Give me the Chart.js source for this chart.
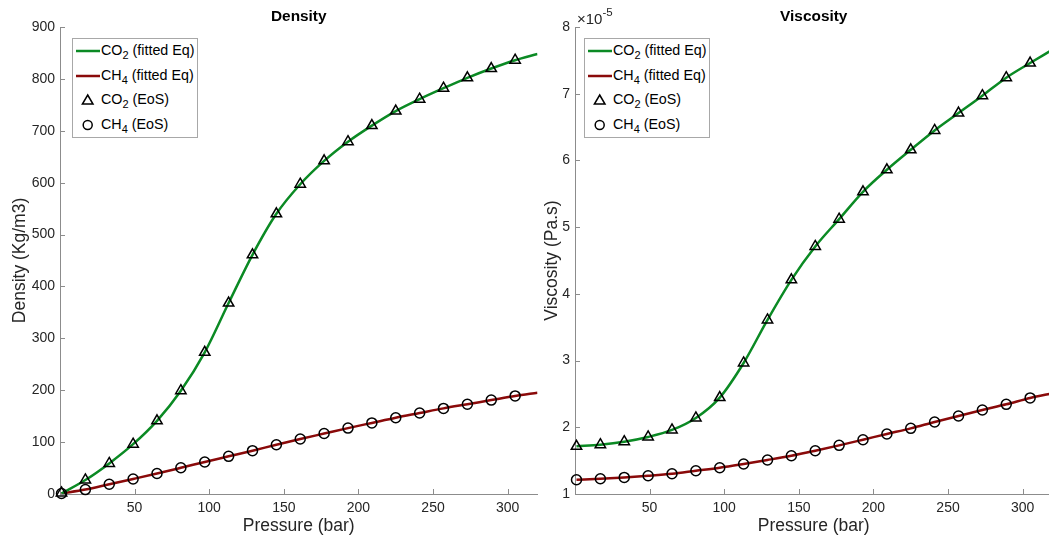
<!DOCTYPE html>
<html>
<head>
<meta charset="utf-8">
<script src="https://cdn.jsdelivr.net/npm/chart.js@4.4.0/dist/chart.umd.min.js"></script>
<style>
html,body{margin:0;padding:0;background:#fff;overflow:hidden;width:1049px;height:539px;}
#wrap{position:relative;width:1049px;height:539px;overflow:hidden;background:#fff;}
canvas{position:absolute;top:0;}
.legend{position:absolute;top:38px;width:126px;height:100px;border:1px solid #a8a8a8;background:#fff;box-sizing:border-box;font-family:"Liberation Sans",Arial,sans-serif;font-size:14.3px;color:#000;}
.legend svg{position:absolute;left:0;top:0;}
.legend .row{position:absolute;left:28px;height:20px;line-height:20px;white-space:nowrap;}
.legend sub{font-size:11px;vertical-align:-4px;line-height:0;}
</style>
</head>
<body>
<div id="wrap">
  <canvas id="cDens" width="545" height="539" style="left:0px;width:545px;height:539px;"></canvas>
  <canvas id="cVisc" width="540" height="539" style="left:520px;width:540px;height:539px;"></canvas>

  <div class="legend" style="left:72px;">
    <svg width="126" height="100">
      <line x1="3" y1="12" x2="27" y2="12" stroke="#0b8a24" stroke-width="2.5"/>
      <line x1="3" y1="37" x2="27" y2="37" stroke="#8a0a0a" stroke-width="2.5"/>
      <polygon points="14.7,56 20,65 9.4,65" fill="none" stroke="#000" stroke-width="1.5"/>
      <circle cx="14.7" cy="86" r="4.5" fill="none" stroke="#000" stroke-width="1.5"/>
    </svg>
    <div class="row" style="top:1px;">CO<sub>2</sub> (fitted Eq)</div>
    <div class="row" style="top:26px;">CH<sub>4</sub> (fitted Eq)</div>
    <div class="row" style="top:50px;">CO<sub>2</sub> (EoS)</div>
    <div class="row" style="top:75px;">CH<sub>4</sub> (EoS)</div>
  </div>

  <div class="legend" style="left:584px;">
    <svg width="126" height="100">
      <line x1="3" y1="12" x2="27" y2="12" stroke="#0b8a24" stroke-width="2.5"/>
      <line x1="3" y1="37" x2="27" y2="37" stroke="#8a0a0a" stroke-width="2.5"/>
      <polygon points="14.7,56 20,65 9.4,65" fill="none" stroke="#000" stroke-width="1.5"/>
      <circle cx="14.7" cy="86" r="4.5" fill="none" stroke="#000" stroke-width="1.5"/>
    </svg>
    <div class="row" style="top:1px;">CO<sub>2</sub> (fitted Eq)</div>
    <div class="row" style="top:26px;">CH<sub>4</sub> (fitted Eq)</div>
    <div class="row" style="top:50px;">CO<sub>2</sub> (EoS)</div>
    <div class="row" style="top:75px;">CH<sub>4</sub> (EoS)</div>
  </div>
</div>

<script>
// ---------- DATA ----------
// Pressure (bar) of the EoS sample points
const pressureEoS = [1, 17, 33, 49, 65, 81, 97, 113, 129, 145, 161, 177, 193, 209, 225, 241, 257, 273, 289, 305];
// Pressure (bar) of the fitted-equation curve samples
const pressureFit = [1, 17, 33, 49, 65, 81, 97, 113, 129, 145, 161, 177, 193, 209, 225, 241, 257, 273, 289, 305, 320];

// Density (Kg/m3)
const densityCO2EoS = [2, 27, 59, 96, 141, 199, 273, 368, 461, 540, 597, 642, 679, 710, 738, 761, 782, 802, 820, 836];
const densityCH4EoS = [1, 8.5, 18.7, 29, 39.5, 50.5, 61.7, 72.6, 83.5, 95, 106, 116.5, 127, 137, 147, 156, 165, 173, 181, 189];
const densityCO2Fit = [1, 27, 59, 96, 141, 199, 273, 368, 461, 540, 597, 642, 679, 710, 738, 761, 782, 802, 820, 836, 848];
const densityCH4Fit = [1, 8.5, 18.7, 29, 39.5, 50.5, 61.7, 72.6, 83.5, 95, 106, 116.5, 127, 137, 147, 156, 165, 173, 181, 189, 195];

// Viscosity (Pa.s), in units of 1e-5
const viscCO2EoS = [1.714, 1.739, 1.784, 1.855, 1.96, 2.14, 2.445, 2.964, 3.61, 4.21, 4.71, 5.12, 5.53, 5.86, 6.16, 6.45, 6.71, 6.97, 7.24, 7.46];
const viscCH4EoS = [1.214, 1.229, 1.249, 1.274, 1.304, 1.349, 1.394, 1.45, 1.51, 1.574, 1.649, 1.729, 1.814, 1.9, 1.984, 2.079, 2.169, 2.259, 2.344, 2.44];
const viscCO2Fit = [1.714, 1.739, 1.784, 1.855, 1.96, 2.14, 2.445, 2.964, 3.61, 4.21, 4.71, 5.12, 5.53, 5.86, 6.16, 6.45, 6.71, 6.97, 7.24, 7.46, 7.66];
const viscCH4Fit = [1.214, 1.229, 1.249, 1.274, 1.304, 1.349, 1.394, 1.45, 1.51, 1.574, 1.649, 1.729, 1.814, 1.9, 1.984, 2.079, 2.169, 2.259, 2.344, 2.44, 2.51];

// Ticks
const xTicks = [50, 100, 150, 200, 250, 300];
const xTickLabels = ['50', '100', '150', '200', '250', '300'];
const densYTicks = [0, 100, 200, 300, 400, 500, 600, 700, 800, 900];
const densYTickLabels = ['0', '100', '200', '300', '400', '500', '600', '700', '800', '900'];
const viscYTicks = [1, 2, 3, 4, 5, 6, 7, 8];
const viscYTickLabels = ['1', '2', '3', '4', '5', '6', '7', '8'];

// ---------- STYLE ----------
const FONT = '"Liberation Sans", Arial, Helvetica, sans-serif';
const GREEN = '#0b8a24';
const DARKRED = '#8a0a0a';
const AXIS = '#8c8c8c';
const TICKTEXT = '#262626';

function pts(xs, ys) { return xs.map((x, i) => ({x: x, y: ys[i]})); }

function decoPlugin(o) {
  return {
    id: 'deco',
    afterDraw(chart) {
      const ctx = chart.ctx, a = chart.chartArea, xs = chart.scales.x, ys = chart.scales.y;
      ctx.save();
      ctx.strokeStyle = AXIS; ctx.lineWidth = 1;
      ctx.beginPath();
      o.xTicks.forEach(v => { const px = Math.round(xs.getPixelForValue(v)) + 0.5; ctx.moveTo(px, a.bottom); ctx.lineTo(px, a.bottom - 5); });
      o.yTicks.forEach(v => { const py = Math.round(ys.getPixelForValue(v)) + 0.5; ctx.moveTo(a.left, py); ctx.lineTo(a.left + 5, py); });
      ctx.stroke();
      const cx = (a.left + a.right) / 2;
      ctx.textAlign = 'center'; ctx.textBaseline = 'middle';
      ctx.fillStyle = '#000';
      ctx.font = 'bold 15.4px ' + FONT;
      ctx.fillText(o.title, cx, 17);
      ctx.fillStyle = TICKTEXT;
      ctx.font = '17.5px ' + FONT;
      ctx.fillText(o.xTitle, cx, 526);
      if (o.exp) {
        ctx.textAlign = 'left';
        ctx.font = '15px ' + FONT;
        ctx.fillText('\u00d710', a.left + 2, 20);
        const w = ctx.measureText('\u00d710').width;
        ctx.font = '11.5px ' + FONT;
        ctx.fillText(o.exp, a.left + 2 + w, 13);
        ctx.textAlign = 'center';
      }
      ctx.font = '17.5px ' + FONT;
      ctx.translate(o.yTitleX, (a.top + a.bottom) / 2);
      ctx.rotate(-Math.PI / 2);
      ctx.fillText(o.yTitle, 0, 0);
      ctx.restore();
    }
  };
}

function makeChart(id, c) {
  return new Chart(document.getElementById(id), {
    type: 'scatter',
    data: {
      datasets: [
        {label: 'CO2 (EoS)', data: pts(pressureEoS, c.co2), pointStyle: 'triangle', pointRadius: 6, borderColor: '#000', backgroundColor: 'rgba(0,0,0,0)', borderWidth: 1.5, showLine: false, clip: false, order: 1},
        {label: 'CH4 (EoS)', data: pts(pressureEoS, c.ch4), pointStyle: 'circle', pointRadius: 5, borderColor: '#000', backgroundColor: 'rgba(0,0,0,0)', borderWidth: 1.5, showLine: false, clip: false, order: 1},
        {label: 'CO2 (fitted Eq)', data: pts(pressureFit, c.co2Fit), showLine: true, borderColor: GREEN, backgroundColor: GREEN, borderWidth: 2.5, pointRadius: 0, cubicInterpolationMode: 'monotone', order: 2},
        {label: 'CH4 (fitted Eq)', data: pts(pressureFit, c.ch4Fit), showLine: true, borderColor: DARKRED, backgroundColor: DARKRED, borderWidth: 2.5, pointRadius: 0, cubicInterpolationMode: 'monotone', order: 3}
      ]
    },
    options: {
      responsive: false, animation: false, events: [],
      plugins: {legend: {display: false}, tooltip: {enabled: false}, title: {display: false}},
      layout: {padding: {left: 0, top: 27, right: 7, bottom: 0}},
      scales: {
        x: {
          type: 'linear', min: 0, max: 320,
          afterFit(s) { s.height = 45; },
          afterBuildTicks(s) { s.ticks = xTicks.map(v => ({value: v})); },
          grid: {display: false, drawTicks: false},
          border: {display: true, color: AXIS, width: 1},
          ticks: {color: TICKTEXT, font: {family: FONT, size: 14}, padding: 6, maxRotation: 0, autoSkip: false,
                  callback: (v) => { const i = xTicks.indexOf(v); return i >= 0 ? xTickLabels[i] : ''; }}
        },
        y: {
          type: 'linear', min: c.yMin, max: c.yMax,
          afterFit(s) { s.width = c.yWidth; },
          afterBuildTicks(s) { s.ticks = c.yTicks.map(v => ({value: v})); },
          grid: {display: false, drawTicks: false},
          border: {display: true, color: AXIS, width: 1},
          ticks: {color: TICKTEXT, font: {family: FONT, size: 14}, padding: 5, autoSkip: false,
                  callback: (v) => { const i = c.yTicks.indexOf(v); return i >= 0 ? c.yLabels[i] : ''; }}
        }
      }
    },
    plugins: [decoPlugin({title: c.title, xTitle: 'Pressure (bar)', yTitle: c.yTitle, yTitleX: c.yTitleX, xTicks: xTicks, yTicks: c.yTicks, exp: c.exp})]
  });
}

makeChart('cDens', {
  co2: densityCO2EoS, ch4: densityCH4EoS, co2Fit: densityCO2Fit, ch4Fit: densityCH4Fit,
  yMin: 0, yMax: 900, yTicks: densYTicks, yLabels: densYTickLabels, yWidth: 60,
  title: 'Density', yTitle: 'Density (Kg/m3)', yTitleX: 20, exp: null
});
makeChart('cVisc', {
  co2: viscCO2EoS, ch4: viscCH4EoS, co2Fit: viscCO2Fit, ch4Fit: viscCH4Fit,
  yMin: 1, yMax: 8, yTicks: viscYTicks, yLabels: viscYTickLabels, yWidth: 55,
  title: 'Viscosity', yTitle: 'Viscosity (Pa.s)', yTitleX: 32.5, exp: '-5'
});
</script>
</body>
</html>
